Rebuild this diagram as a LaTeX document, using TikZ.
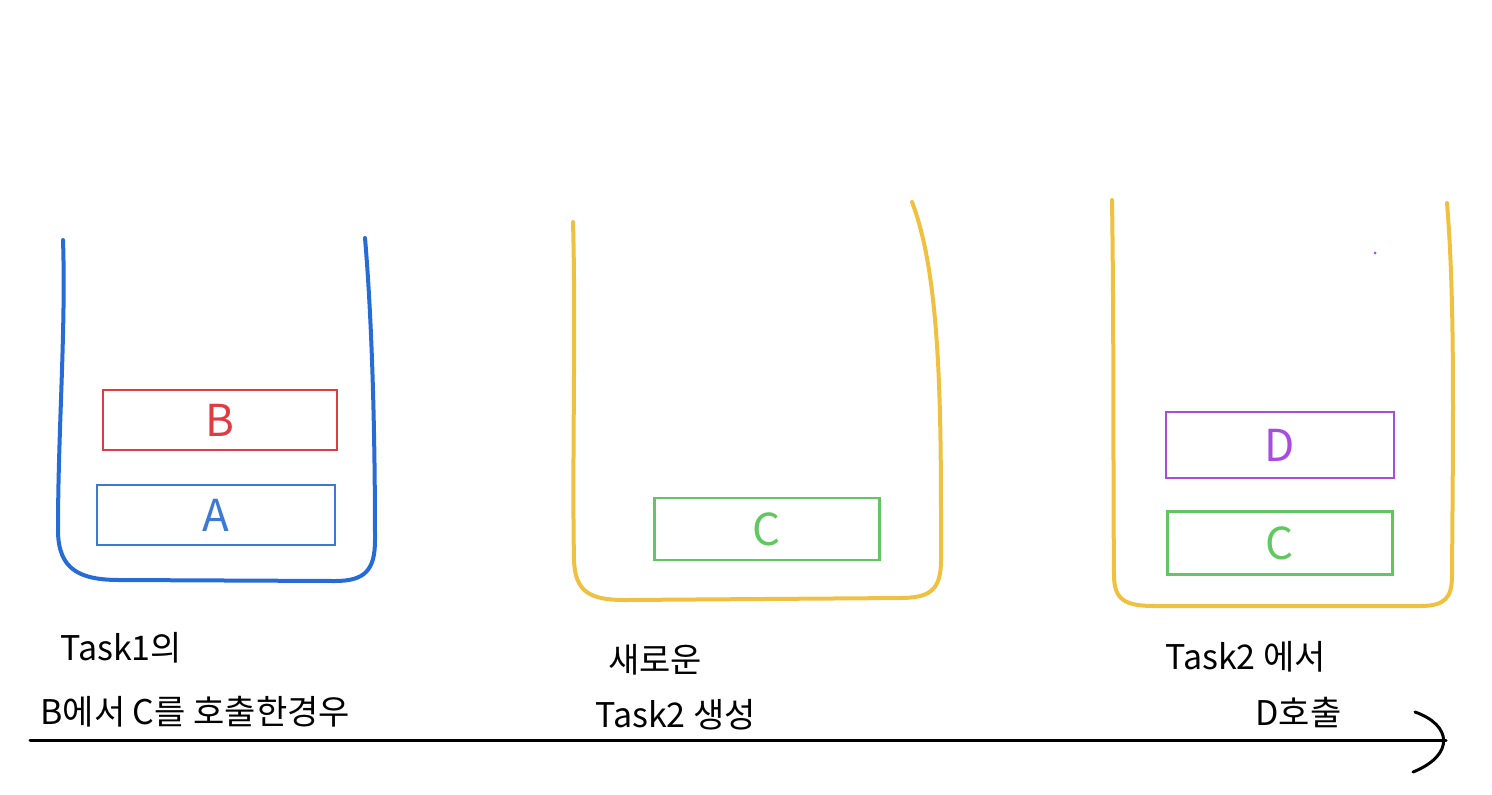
\documentclass[tikz,border=0pt]{standalone}
\usepackage{fontspec}
\setmainfont{Noto Sans CJK KR}
\definecolor{cupblue}{RGB}{38,108,214}
\definecolor{cupyellow}{RGB}{240,192,64}
\definecolor{boxred}{RGB}{222,60,66}
\definecolor{boxblue}{RGB}{58,122,214}
\definecolor{boxgreen}{RGB}{96,200,96}
\definecolor{boxpurple}{RGB}{168,76,224}
\tikzset{
  cup/.style={line width=2pt, line cap=round, line join=round},
  frame/.style={draw, line width=1.4pt, font=\fontsize{22}{24}\selectfont, inner sep=0pt},
  caption/.style={font=\fontsize{17}{20}\selectfont, inner sep=0pt, anchor=west},
  axis/.style={line width=1.5pt, line cap=round}
}
\begin{document}
\begin{tikzpicture}[x=0.5pt,y=-0.5pt]
\useasboundingbox (0,0) rectangle (1492,794);
% containers
\draw[cup, cupblue] (63,240) .. controls (66,330) and (58,430) .. (58,530)
  .. controls (58,570) and (80,580) .. (120,580) -- (335,581)
  .. controls (365,581) and (375,570) .. (375,540)
  .. controls (375,430) and (372,320) .. (365,238);
\draw[cup, cupyellow] (573,222) .. controls (576,330) and (572,460) .. (574,560)
  .. controls (575,592) and (590,600) .. (625,600) -- (900,598)
  .. controls (930,598) and (941,590) .. (941,560)
  .. controls (941,420) and (942,280) .. (912,202);
\draw[cup, cupyellow] (1112,200) .. controls (1114,330) and (1113,470) .. (1114,575)
  .. controls (1114,600) and (1125,606) .. (1155,606) -- (1420,606)
  .. controls (1445,606) and (1452,598) .. (1452,575)
  .. controls (1453,430) and (1455,300) .. (1447,203);
% stack frames
\node[frame, boxred, minimum width=117pt, minimum height=30pt] (B) at (220,420) {B};
\node[frame, boxblue, minimum width=119pt, minimum height=30pt] (A) at (216,515) {A};
\node[frame, boxgreen, minimum width=112.5pt, minimum height=31pt] (C1) at (767,529) {C};
\node[frame, boxpurple, minimum width=114pt, minimum height=33pt] (D) at (1280,445) {D};
\node[frame, boxgreen, minimum width=112.5pt, minimum height=31.5pt] (C2) at (1280,543) {C};
\fill[boxpurple] (1375,253) circle (1.5);
% captions
\node[caption] (t1a) at (60,648) {Task1의};
\node[caption] (t1b) at (40,712) {B에서 C를 호출한경우};
\node[caption] (t2a) at (608,660) {새로운};
\node[caption] (t2b) at (595,715) {Task2 생성};
\node[caption] (t3a) at (1165,657) {Task2 에서};
\node[caption] (t3b) at (1255,712) {D호출};
% time axis
\coordinate (ax0) at (30,740);
\coordinate (ax1) at (1446,740);
\coordinate (tipa) at (1415,712);
\coordinate (tipb) at (1413,772);
\draw[axis] (ax0) -- (ax1);
\draw[axis] (tipa) .. controls (1452,725) and (1455,755) .. (tipb);
\end{tikzpicture}
\end{document}
